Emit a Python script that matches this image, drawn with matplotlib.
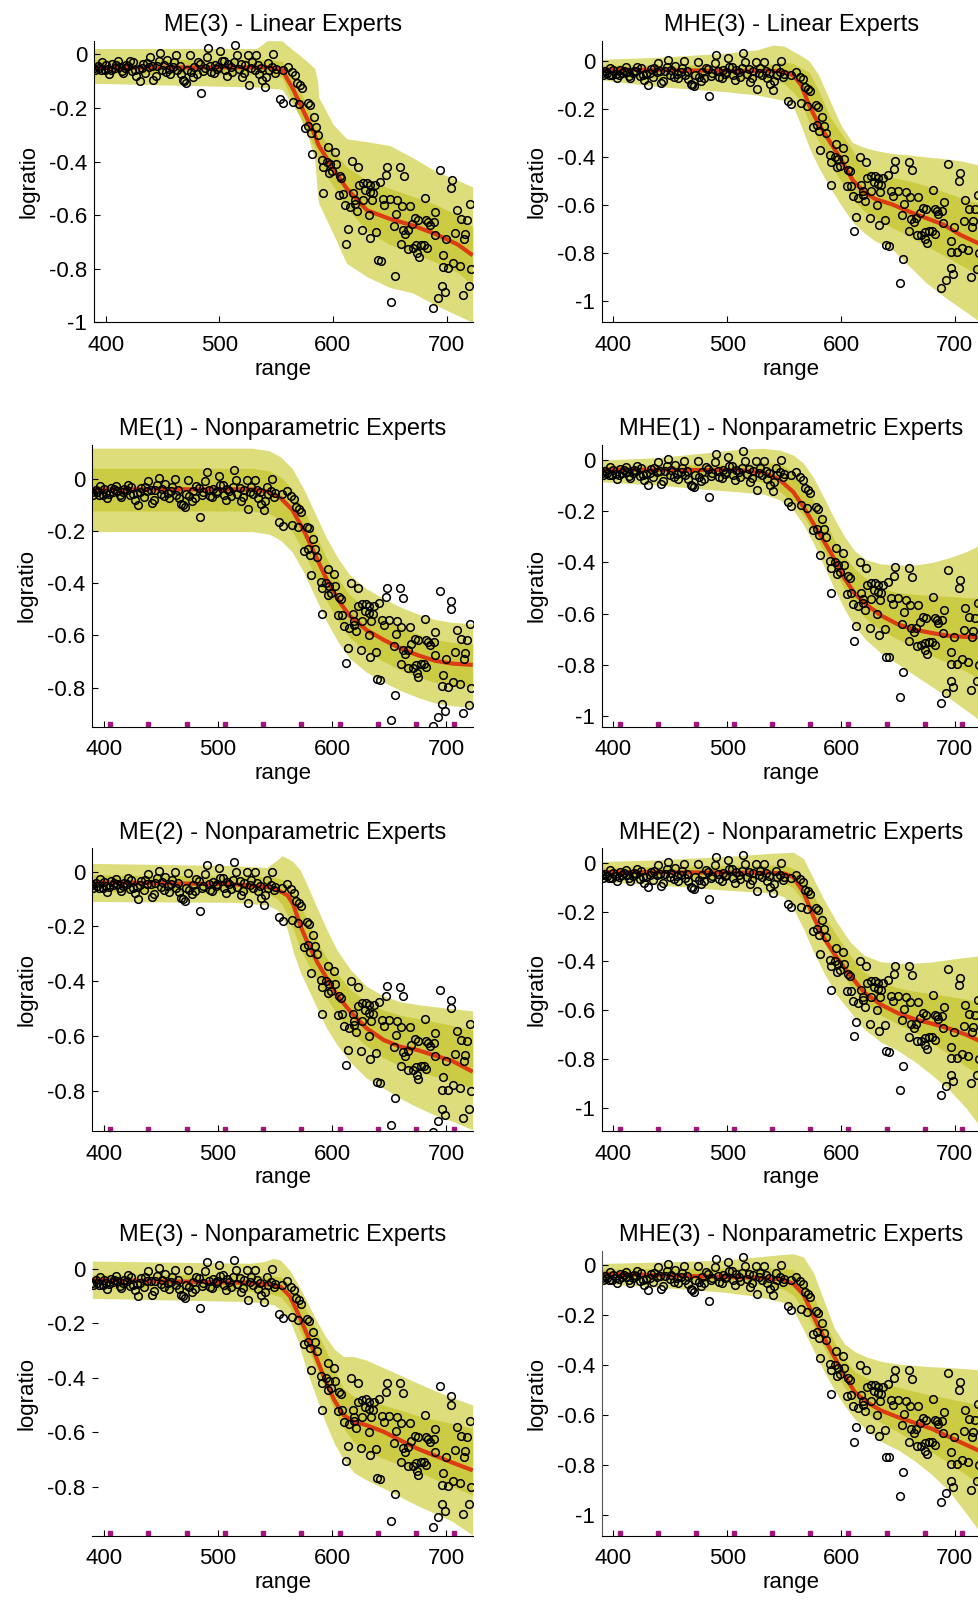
import matplotlib.pyplot as plt
import numpy as np

plt.rcParams['font.family'] = ['Liberation Sans', 'DejaVu Sans']

# lidar data (range, logratio)
range_x = [390, 391, 393, 394, 396, 397, 399, 400, 402, 403, 405, 406, 408, 409, 411, 412,
           414, 415, 417, 418, 420, 421, 423, 424, 426, 427, 429, 430, 432, 433, 435, 436,
           438, 439, 441, 442, 444, 445, 447, 448, 450, 451, 453, 454, 456, 457, 459, 460,
           462, 463, 465, 466, 468, 469, 471, 472, 474, 475, 477, 478, 480, 481, 483, 484,
           486, 487, 489, 490, 492, 493, 495, 496, 498, 499, 501, 502, 504, 505, 507, 508,
           510, 511, 513, 514, 516, 517, 519, 520, 522, 523, 525, 526, 528, 529, 531, 532,
           534, 535, 537, 538, 540, 541, 543, 544, 546, 547, 549, 550,
           553.0, 556.4, 556.5, 560.8, 563.7, 565.0, 566.7, 568.2, 570.0, 571.0, 572.5, 575.0,
           578.0, 578.5, 580.0, 581.0, 581.5, 583.0, 585.0, 587.0, 590.0, 591.0, 591.5, 594.5,
           596.0, 596.5, 597.5, 599.0, 602.0, 602.5, 605.0, 606.0, 607.5, 608.5, 610.6, 611.8,
           613.6, 614.8, 616.5, 618.0, 619.0, 619.5, 621.0, 622.3, 623.0, 625.5, 626.3, 626.5,
           628.6, 629.7, 632.0, 632.3, 632.6, 633.0, 634.0, 635.5, 637.0, 638.3, 639.3, 642.2,
           641.4, 643.8, 645.3, 646.8, 647.6, 649.8, 651.4, 653.7, 654.6, 655.7, 656.8, 659.3,
           660.5, 659.8, 662.2, 663.8, 661.8, 666.0, 666.5, 667.8, 669.3, 670.6, 672.1, 673.5,
           674.0, 675.0, 675.5, 677.5, 680.0, 681.0, 682.5, 682.3, 684.0, 685.4, 688.0, 688.8,
           689.8, 690.2, 692.5, 694.2, 696.3, 697.0, 696.5, 698.7, 699.5, 701.5, 703.7, 704.4,
           706.0, 707.8, 709.0, 711.7, 712.5, 714.2, 715.3, 716.0, 717.7, 719.9, 720.5, 721.5]
logratio = [-0.050, -0.060, -0.042, -0.051, -0.060, -0.028, -0.060, -0.039, -0.053, -0.073,
            -0.057, -0.036, -0.049, -0.040, -0.026, -0.046, -0.061, -0.071, -0.051, -0.040,
            -0.044, -0.024, -0.063, -0.030, -0.058, -0.079, -0.055, -0.099, -0.050, -0.035,
            -0.068, -0.031, -0.046, -0.009, -0.044, -0.094, -0.082, -0.043, -0.025, 0.004,
            -0.057, -0.039, -0.066, -0.020, -0.053, -0.073, -0.047, -0.030, -0.002, -0.060,
            -0.042, -0.074, -0.096, -0.100, -0.106, -0.058, -0.004, -0.067, -0.083, -0.048,
            -0.072, -0.028, -0.034, -0.145, -0.061, -0.052, -0.009, 0.025, -0.044, -0.066,
            -0.071, -0.038, -0.053, -0.046, 0.013, -0.025, -0.024, -0.060, -0.079, -0.037,
            -0.047, -0.065, -0.030, 0.034, -0.003, -0.056, -0.034, -0.086, -0.070, -0.041,
            -0.003, -0.115, -0.049, -0.030, -0.058, -0.003, -0.041, -0.072, -0.052, -0.096,
            -0.121, -0.084, -0.031, -0.058, -0.048, 0.000, -0.068, -0.055,
            -0.165, -0.059, -0.180, -0.046, -0.065, -0.177, -0.077, -0.108, -0.186, -0.115,
            -0.127, -0.275, -0.183, -0.268, -0.190, -0.292, -0.370, -0.232, -0.270, -0.300,
            -0.394, -0.420, -0.518, -0.400, -0.345, -0.444, -0.410, -0.437, -0.364, -0.410,
            -0.523, -0.453, -0.460, -0.520, -0.563, -0.707, -0.650, -0.571, -0.399, -0.519,
            -0.560, -0.544, -0.585, -0.420, -0.489, -0.656, -0.481, -0.544, -0.506, -0.479,
            -0.600, -0.514, -0.488, -0.684, -0.545, -0.518, -0.487, -0.662, -0.768, -0.770,
            -0.477, -0.540, -0.562, -0.452, -0.419, -0.540, -0.925, -0.640, -0.827, -0.595,
            -0.545, -0.420, -0.566, -0.708, -0.455, -0.671, -0.657, -0.655, -0.725, -0.566,
            -0.633, -0.724, -0.612, -0.713, -0.743, -0.619, -0.758, -0.710, -0.710, -0.536,
            -0.721, -0.619, -0.624, -0.637, -0.948, -0.625, -0.674, -0.587, -0.911, -0.431,
            -0.864, -0.750, -0.795, -0.888, -0.690, -0.796, -0.499, -0.467, -0.779, -0.665,
            -0.580, -0.788, -0.615, -0.899, -0.690, -0.669, -0.619, -0.865, -0.557, -0.801]

# magenta markers on the nonparametric plots
centre_x = [405.5, 439, 472.5, 506, 539, 573, 606.5, 640, 673.5, 706.5]

# ME(3) - Linear Experts
me3_lin_x = [390, 533, 542, 555, 565, 575, 584, 586.5, 587.5, 600, 612, 630, 650, 670, 690, 710, 723]
me3_lin_mean = [-0.050, -0.048, -0.048, -0.055, -0.130, -0.220, -0.300, -0.330, -0.340, -0.425,
                -0.500, -0.582, -0.614, -0.638, -0.670, -0.710, -0.750]
me3_lin_out_hi = [0.022, 0.022, 0.051, 0.051, 0.016, -0.018, -0.052, -0.100, -0.160, -0.260,
                  -0.315, -0.326, -0.340, -0.385, -0.435, -0.470, -0.495]
me3_lin_out_lo = [-0.108, -0.122, -0.125, -0.130, -0.190, -0.260, -0.394, -0.530, -0.556, -0.668,
                  -0.780, -0.830, -0.870, -0.890, -0.935, -0.975, -1.000]
me3_lin_in_hi = [-0.019, -0.019, -0.020, -0.025, -0.080, -0.170, -0.250, -0.270, -0.290, -0.360,
                 -0.420, -0.470, -0.500, -0.530, -0.560, -0.600, -0.645]
me3_lin_in_lo = [-0.072, -0.075, -0.076, -0.085, -0.180, -0.270, -0.350, -0.390, -0.410, -0.490,
                 -0.570, -0.660, -0.710, -0.740, -0.775, -0.815, -0.860]

# MHE(3) - Linear Experts
mhe3_lin_x = [390, 440, 500, 526, 540, 550, 558, 565, 572, 580, 590, 600, 610, 620, 630, 645,
              660, 675, 690, 705, 723]
mhe3_lin_mean = [-0.036, -0.038, -0.042, -0.042, -0.042, -0.045, -0.060, -0.100, -0.185, -0.260,
                 -0.335, -0.410, -0.495, -0.545, -0.575, -0.598, -0.628, -0.655, -0.682, -0.725, -0.765]
mhe3_lin_out_hi = [0.007, 0.015, 0.033, 0.046, 0.066, 0.062, 0.040, 0.022, 0.000, -0.055, -0.163,
                   -0.268, -0.340, -0.360, -0.373, -0.386, -0.392, -0.400, -0.407, -0.416, -0.436]
mhe3_lin_out_lo = [-0.079, -0.107, -0.129, -0.142, -0.155, -0.165, -0.190, -0.270, -0.360, -0.440,
                   -0.525, -0.600, -0.670, -0.715, -0.750, -0.785, -0.855, -0.925, -0.980, -1.030, -1.090]
mhe3_lin_in_hi = [-0.017, -0.017, -0.017, -0.017, -0.012, -0.005, -0.010, -0.030, -0.046, -0.120,
                  -0.230, -0.300, -0.370, -0.440, -0.470, -0.485, -0.500, -0.520, -0.545, -0.570, -0.595]
mhe3_lin_in_lo = [-0.068, -0.072, -0.076, -0.078, -0.080, -0.095, -0.130, -0.170, -0.260, -0.330,
                  -0.430, -0.500, -0.575, -0.625, -0.655, -0.695, -0.730, -0.770, -0.810, -0.850, -0.900]

# ME(1) - Nonparametric Experts
me1_np_x = [390, 500, 530, 545, 555, 565, 575, 585, 595, 605, 615, 630, 645, 660, 675, 690, 705, 723]
me1_np_mean = [-0.040, -0.040, -0.040, -0.050, -0.074, -0.118, -0.196, -0.290, -0.384, -0.462,
               -0.524, -0.579, -0.617, -0.650, -0.676, -0.697, -0.708, -0.713]
me1_np_out_hi = [0.118, 0.118, 0.118, 0.108, 0.084, 0.040, -0.038, -0.132, -0.226, -0.304,
                 -0.366, -0.421, -0.459, -0.492, -0.518, -0.539, -0.550, -0.555]
me1_np_out_lo = [-0.202, -0.202, -0.202, -0.212, -0.236, -0.280, -0.358, -0.452, -0.546, -0.624,
                 -0.686, -0.741, -0.779, -0.812, -0.838, -0.859, -0.870, -0.875]
me1_np_in_hi = [0.041, 0.041, 0.041, 0.031, 0.007, -0.037, -0.115, -0.209, -0.303, -0.381,
                -0.443, -0.498, -0.536, -0.569, -0.595, -0.616, -0.627, -0.632]
me1_np_in_lo = [-0.123, -0.123, -0.123, -0.133, -0.157, -0.201, -0.279, -0.373, -0.467, -0.545,
                -0.607, -0.662, -0.700, -0.733, -0.759, -0.780, -0.791, -0.796]

# MHE(1) - Nonparametric Experts
mhe1_np_x = [390, 440, 480, 510, 532, 546, 558, 567, 576, 585, 594, 603, 612, 622, 635, 650,
             665, 680, 695, 710, 723]
mhe1_np_mean = [-0.037, -0.038, -0.039, -0.039, -0.049, -0.077, -0.124, -0.183, -0.250, -0.317,
                -0.385, -0.462, -0.521, -0.564, -0.607, -0.642, -0.663, -0.676, -0.687, -0.691, -0.693]
mhe1_np_out_hi = [0.000, 0.010, 0.028, 0.042, 0.046, 0.039, 0.020, -0.012, -0.070, -0.147, -0.228,
                  -0.298, -0.355, -0.389, -0.406, -0.410, -0.410, -0.400, -0.382, -0.358, -0.330]
mhe1_np_out_lo = [-0.085, -0.098, -0.114, -0.124, -0.133, -0.155, -0.195, -0.252, -0.327, -0.413,
                  -0.502, -0.582, -0.650, -0.703, -0.754, -0.797, -0.842, -0.886, -0.930, -0.978, -1.020]
mhe1_np_in_hi = [-0.020, -0.019, -0.017, -0.016, -0.008, -0.014, -0.045, -0.090, -0.160, -0.226,
                 -0.310, -0.375, -0.425, -0.464, -0.501, -0.518, -0.525, -0.529, -0.533, -0.537, -0.540]
mhe1_np_in_lo = [-0.065, -0.067, -0.069, -0.072, -0.088, -0.121, -0.169, -0.218, -0.285, -0.357,
                 -0.427, -0.505, -0.571, -0.621, -0.666, -0.700, -0.733, -0.765, -0.794, -0.826, -0.857]

# ME(2) - Nonparametric Experts
me2_np_x = [390, 514, 543, 552, 556, 561, 566, 572, 578, 587, 595, 604, 616, 630, 645, 660,
            675, 690, 705, 723]
me2_np_mean = [-0.039, -0.046, -0.056, -0.067, -0.075, -0.087, -0.120, -0.195, -0.255, -0.331,
               -0.387, -0.450, -0.511, -0.571, -0.614, -0.639, -0.651, -0.671, -0.690, -0.730]
me2_np_out_hi = [0.030, 0.022, 0.015, 0.043, 0.058, 0.048, 0.035, 0.006, -0.048, -0.134, -0.209,
                 -0.285, -0.358, -0.418, -0.454, -0.475, -0.485, -0.493, -0.500, -0.508]
me2_np_out_lo = [-0.109, -0.112, -0.122, -0.140, -0.160, -0.215, -0.295, -0.365, -0.420, -0.500,
                 -0.570, -0.630, -0.695, -0.753, -0.790, -0.828, -0.860, -0.888, -0.910, -0.942]
me2_np_in_hi = [-0.012, -0.016, -0.018, -0.024, -0.028, -0.045, -0.071, -0.120, -0.175, -0.255,
                -0.314, -0.370, -0.430, -0.475, -0.505, -0.524, -0.536, -0.548, -0.561, -0.577]
me2_np_in_lo = [-0.073, -0.076, -0.079, -0.100, -0.120, -0.160, -0.210, -0.280, -0.330, -0.400,
                -0.460, -0.520, -0.585, -0.635, -0.679, -0.710, -0.731, -0.747, -0.765, -0.790]

# MHE(2) - Nonparametric Experts
mhe2_np_x = [390, 440, 500, 540, 550, 558, 567, 576, 585, 596, 608, 620, 635, 650, 665, 680,
             695, 710, 723]
mhe2_np_mean = [-0.036, -0.037, -0.038, -0.039, -0.042, -0.056, -0.118, -0.220, -0.305, -0.383,
                -0.457, -0.526, -0.577, -0.612, -0.637, -0.655, -0.675, -0.700, -0.728]
mhe2_np_out_hi = [0.007, 0.014, 0.028, 0.041, 0.043, 0.045, 0.019, -0.065, -0.148, -0.238, -0.321,
                  -0.375, -0.402, -0.408, -0.408, -0.403, -0.393, -0.384, -0.378]
mhe2_np_out_lo = [-0.075, -0.089, -0.110, -0.122, -0.138, -0.184, -0.267, -0.364, -0.447, -0.537,
                  -0.606, -0.675, -0.730, -0.765, -0.810, -0.865, -0.925, -1.000, -1.080]
mhe2_np_in_hi = [-0.018, -0.014, -0.010, -0.007, -0.008, -0.020, -0.055, -0.132, -0.213, -0.293,
                 -0.375, -0.444, -0.486, -0.508, -0.523, -0.533, -0.543, -0.555, -0.566]
mhe2_np_in_lo = [-0.054, -0.058, -0.063, -0.068, -0.080, -0.100, -0.157, -0.242, -0.325, -0.415,
                 -0.498, -0.566, -0.620, -0.656, -0.690, -0.735, -0.780, -0.830, -0.868]

# ME(3) - Nonparametric Experts
me3_np_x = [390, 528, 540, 549, 555, 563, 570, 578, 586, 594, 602, 610, 619, 630, 645, 660,
            675, 690, 705, 723]
me3_np_mean = [-0.040, -0.051, -0.055, -0.060, -0.066, -0.100, -0.162, -0.240, -0.325, -0.410,
               -0.483, -0.537, -0.562, -0.574, -0.598, -0.630, -0.661, -0.686, -0.711, -0.740]
me3_np_out_hi = [0.029, 0.021, 0.027, 0.039, 0.032, -0.006, -0.055, -0.120, -0.188, -0.247, -0.295,
                 -0.322, -0.322, -0.335, -0.363, -0.391, -0.420, -0.447, -0.472, -0.500]
me3_np_out_lo = [-0.108, -0.120, -0.126, -0.132, -0.150, -0.190, -0.265, -0.377, -0.470, -0.563,
                 -0.642, -0.700, -0.748, -0.775, -0.806, -0.838, -0.870, -0.898, -0.927, -0.978]
me3_np_in_hi = [-0.020, -0.022, -0.024, -0.026, -0.029, -0.055, -0.100, -0.157, -0.225, -0.295,
                -0.372, -0.439, -0.468, -0.484, -0.500, -0.519, -0.539, -0.554, -0.568, -0.586]
me3_np_in_lo = [-0.071, -0.081, -0.088, -0.095, -0.103, -0.143, -0.210, -0.285, -0.363, -0.440,
                -0.520, -0.585, -0.637, -0.671, -0.697, -0.720, -0.745, -0.772, -0.800, -0.831]

# MHE(3) - Nonparametric Experts
mhe3_np_x = [390, 440, 497, 526, 549, 558, 567, 576, 585, 594, 603, 612, 622, 635, 650, 665,
             680, 695, 710, 723]
mhe3_np_mean = [-0.034, -0.040, -0.047, -0.050, -0.057, -0.074, -0.117, -0.206, -0.290, -0.366,
                -0.440, -0.508, -0.547, -0.582, -0.609, -0.632, -0.656, -0.688, -0.720, -0.747]
mhe3_np_out_hi = [0.007, 0.013, 0.020, 0.033, 0.043, 0.046, 0.033, -0.032, -0.142, -0.250, -0.315,
                  -0.346, -0.367, -0.385, -0.396, -0.402, -0.407, -0.410, -0.415, -0.420]
mhe3_np_out_lo = [-0.074, -0.088, -0.108, -0.125, -0.148, -0.180, -0.258, -0.342, -0.424, -0.498,
                  -0.562, -0.616, -0.658, -0.706, -0.740, -0.785, -0.840, -0.905, -0.995, -1.075]
mhe3_np_in_hi = [-0.016, -0.014, -0.012, -0.011, -0.011, -0.018, -0.055, -0.125, -0.222, -0.305,
                 -0.377, -0.425, -0.452, -0.470, -0.489, -0.506, -0.521, -0.535, -0.549, -0.562]
mhe3_np_in_lo = [-0.054, -0.062, -0.070, -0.076, -0.095, -0.120, -0.177, -0.246, -0.330, -0.414,
                 -0.490, -0.547, -0.593, -0.630, -0.668, -0.710, -0.750, -0.793, -0.840, -0.880]

OUTER = '#dedd7c'
INNER = '#cccc44'
RED = '#dd3b12'
MAGENTA = '#a3157c'

W, H = 979, 1603
fig = plt.figure(figsize=(W / 100, H / 100), dpi=100)

# (title, knots, mean, out_lo, out_hi, in_lo, in_hi, ylim, nonparametric)
panels = [
    ('ME(3) - Linear Experts', me3_lin_x, me3_lin_mean, me3_lin_out_lo, me3_lin_out_hi,
     me3_lin_in_lo, me3_lin_in_hi, (-1.0, 0.05), False),
    ('MHE(3) - Linear Experts', mhe3_lin_x, mhe3_lin_mean, mhe3_lin_out_lo, mhe3_lin_out_hi,
     mhe3_lin_in_lo, mhe3_lin_in_hi, (-1.089, 0.083), False),
    ('ME(1) - Nonparametric Experts', me1_np_x, me1_np_mean, me1_np_out_lo, me1_np_out_hi,
     me1_np_in_lo, me1_np_in_hi, (-0.95, 0.13), True),
    ('MHE(1) - Nonparametric Experts', mhe1_np_x, mhe1_np_mean, mhe1_np_out_lo, mhe1_np_out_hi,
     mhe1_np_in_lo, mhe1_np_in_hi, (-1.042, 0.059), True),
    ('ME(2) - Nonparametric Experts', me2_np_x, me2_np_mean, me2_np_out_lo, me2_np_out_hi,
     me2_np_in_lo, me2_np_in_hi, (-0.946, 0.085), True),
    ('MHE(2) - Nonparametric Experts', mhe2_np_x, mhe2_np_mean, mhe2_np_out_lo, mhe2_np_out_hi,
     mhe2_np_in_lo, mhe2_np_in_hi, (-1.093, 0.061), True),
    ('ME(3) - Nonparametric Experts', me3_np_x, me3_np_mean, me3_np_out_lo, me3_np_out_hi,
     me3_np_in_lo, me3_np_in_hi, (-0.98, 0.066), True),
    ('MHE(3) - Nonparametric Experts', mhe3_np_x, mhe3_np_mean, mhe3_np_out_lo, mhe3_np_out_hi,
     mhe3_np_in_lo, mhe3_np_in_hi, (-1.084, 0.057), True),
]

# axes boxes in pixels: left, right, top, bottom
tops = [41, 445, 848.3, 1251]
bottoms = [322.3, 726.7, 1131, 1535.7]
lefts = [[94.3, 602], [92.3, 602], [92.3, 602], [92.3, 602]]
rights = [472.7, 981]

for i, (title, kx, mean, olo, ohi, ilo, ihi, ylim, nonpar) in enumerate(panels):
    row, col = divmod(i, 2)
    l, r = lefts[row][col], rights[col]
    t, b = tops[row], bottoms[row]
    ax = fig.add_axes([l / W, 1 - b / H, (r - l) / W, (b - t) / H])

    ax.fill_between(kx, olo, ohi, color=OUTER, lw=0)
    ax.fill_between(kx, ilo, ihi, color=INNER, lw=0)
    ax.plot(kx, mean, color=RED, lw=3, solid_capstyle='butt')
    ax.plot(range_x, logratio, 'o', mfc='none', mec='k', ms=5.5, mew=1.1)
    if nonpar:
        ax.plot(centre_x, [0.008] * len(centre_x), 's', color=MAGENTA, ms=3.2,
                transform=ax.get_xaxis_transform(), clip_on=False)

    ax.set_xlim(390, 723)
    ax.set_ylim(*ylim)
    ax.set_xticks([400, 500, 600, 700])
    ax.set_xticklabels(['400', '500', '600', '700'])
    if ylim[0] <= -1.0:
        yt = [0, -0.2, -0.4, -0.6, -0.8, -1]
        yl = ['0', '-0.2', '-0.4', '-0.6', '-0.8', '-1']
    else:
        yt = [0, -0.2, -0.4, -0.6, -0.8]
        yl = ['0', '-0.2', '-0.4', '-0.6', '-0.8']
    ax.set_yticks(yt)
    ax.set_yticklabels(yl)

    for s in ['top', 'right']:
        ax.spines[s].set_visible(False)
    ax.spines['left'].set_linewidth(0.8)
    ax.spines['bottom'].set_linewidth(0.8)
    if i == 6:
        ax.spines['left'].set_visible(False)
    if i == 7:
        ax.spines['left'].set_color('#555555')

    ax.tick_params(axis='both', direction='in', length=4, width=0.8, labelsize=16)
    ax.tick_params(axis='x', pad=9)
    ax.tick_params(axis='y', pad=5)
    ax.set_xlabel('range', fontsize=16, labelpad=2)
    ax.set_ylabel('logratio', fontsize=16, labelpad=7)
    ax.set_title(title, fontsize=17, pad=7)

fig.savefig('out.png', dpi=100)
